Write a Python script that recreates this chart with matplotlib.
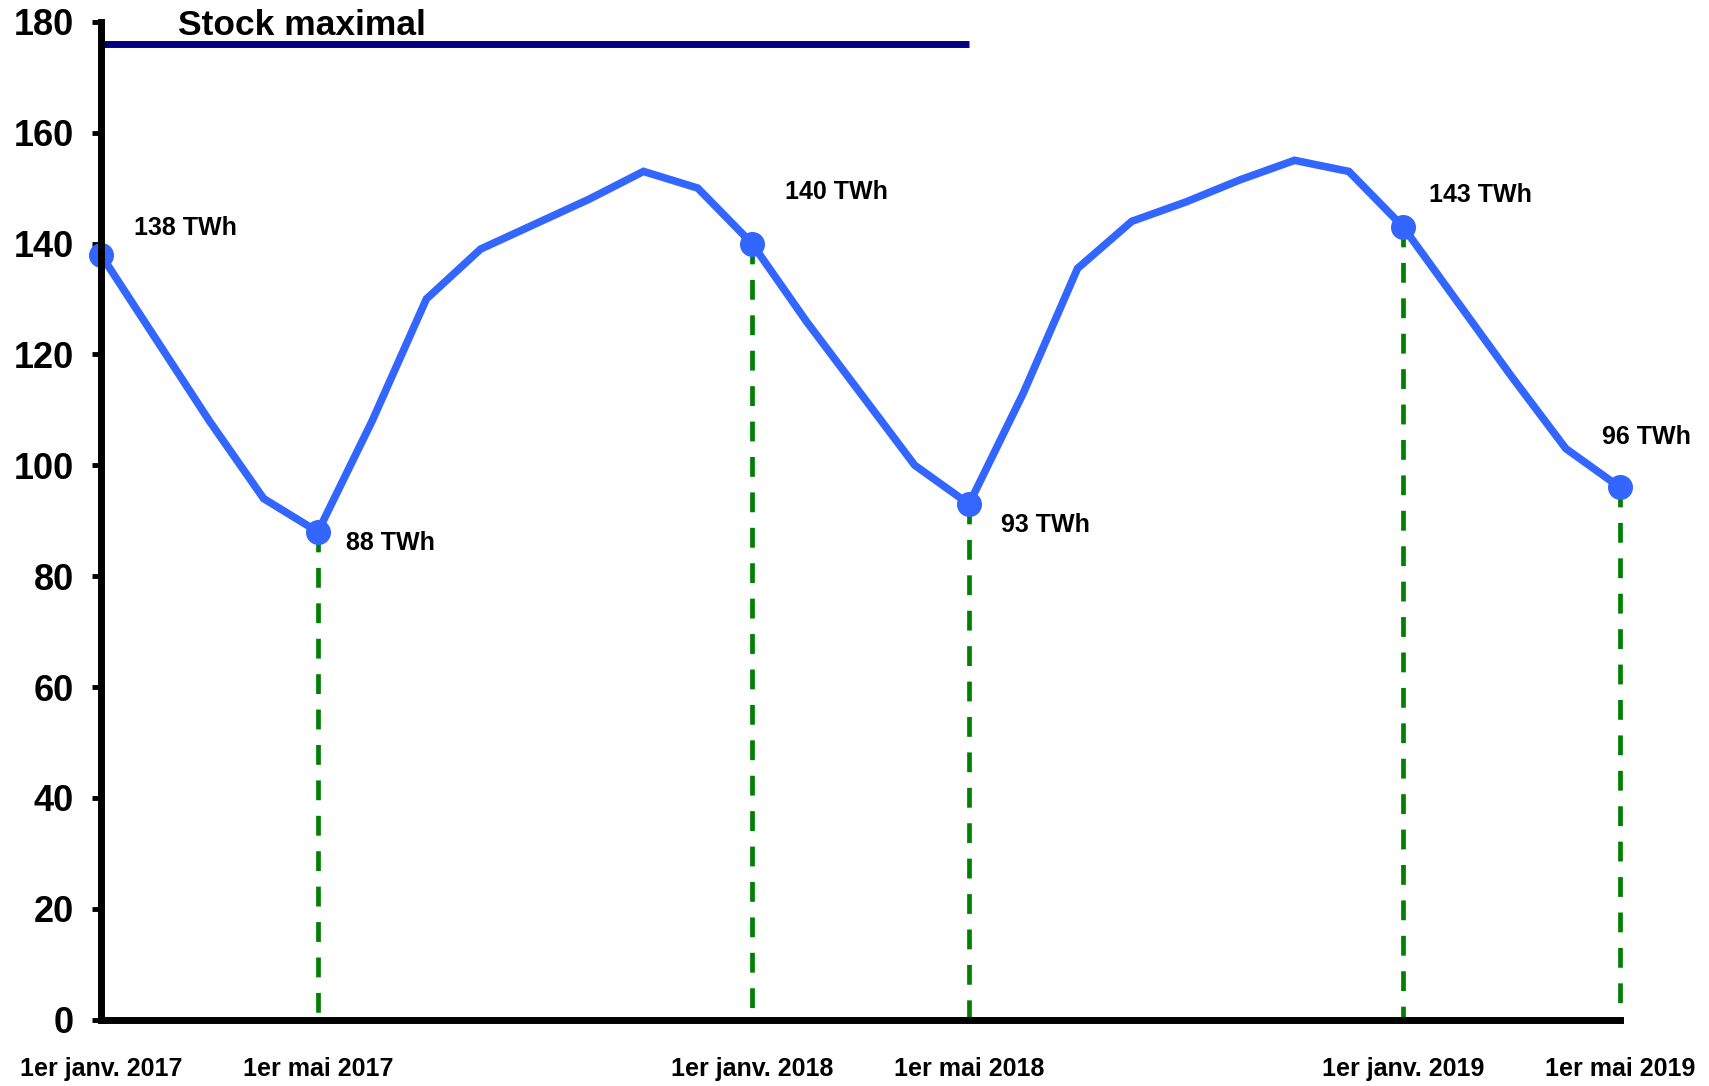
import matplotlib
matplotlib.use('Agg')
import matplotlib.pyplot as plt

# Stock mensuel (TWh), du 1er janv. 2017 au 1er mai 2019
mois = list(range(29))
stock = [138, 123, 108, 94, 88, 108, 130, 139, 143.5, 148, 153, 150,
         140, 126, 113, 100, 93, 113, 135.5, 144, 147.5, 151.5, 155, 153,
         143, 129.5, 116, 103, 96]

# Points remarquables
points_mois = [0, 4, 12, 16, 24, 28]
points_labels = ['138 TWh', '88 TWh', '140 TWh', '93 TWh', '143 TWh', '96 TWh']
label_offsets = [(24, 19), (20, -8), (24, 37), (23, -15), (19, 23), (-13, 36)]

x_labels = ['1er janv. 2017', '1er mai 2017', '1er janv. 2018',
            '1er mai 2018', '1er janv. 2019', '1er mai 2019']

stock_max = 176
stock_max_fin = 16

bleu = '#3366FF'
vert = '#008000'

plt.rcParams['font.family'] = ['Liberation Sans', 'DejaVu Sans']
plt.rcParams['font.weight'] = 'bold'

fig = plt.figure(figsize=(17.09, 10.86), dpi=100)
ax = fig.add_axes([0.059, 0.061, 0.889, 0.919])

# Stock maximal
ax.plot([0, stock_max_fin], [stock_max, stock_max], color='#000080', linewidth=5,
        solid_capstyle='butt', zorder=3)
ax.text(3.7, 179.3, 'Stock maximal', fontsize=25.5, fontweight='bold', ha='center',
        va='center', clip_on=False)

# Lignes verticales pointillees
for m in points_mois[1:]:
    ax.plot([m, m], [stock[m], 0], color=vert, linewidth=3.4, dashes=(4.2, 3.3),
            zorder=2, clip_on=False)

# Courbe du stock
ax.plot(mois, stock, color=bleu, linewidth=5.5, solid_joinstyle='miter', zorder=4)
ax.plot(points_mois, [stock[m] for m in points_mois], 'o', color=bleu,
        markersize=17, zorder=5, clip_on=False)

for m, lab, off in zip(points_mois, points_labels, label_offsets):
    ax.annotate(lab, (m, stock[m]), xytext=off, textcoords='offset points',
                fontsize=18, fontweight='bold', ha='left', va='center')

# Axes
ax.set_xlim(0, 28)
ax.set_ylim(0, 180)
ax.set_yticks(range(0, 181, 20))
ax.set_xticks(points_mois)
ax.set_xticklabels(x_labels, fontsize=18, fontweight='bold')
ax.tick_params(axis='x', length=0, pad=27)
ax.tick_params(axis='y', length=6.5, width=3.5, pad=13, labelsize=26)
for t in ax.get_yticklabels():
    t.set_fontweight('bold')

for s in ['top', 'right']:
    ax.spines[s].set_visible(False)
for s in ['left', 'bottom']:
    ax.spines[s].set_linewidth(5)
    ax.spines[s].set_zorder(6)

plt.savefig('out.png', dpi=100)
